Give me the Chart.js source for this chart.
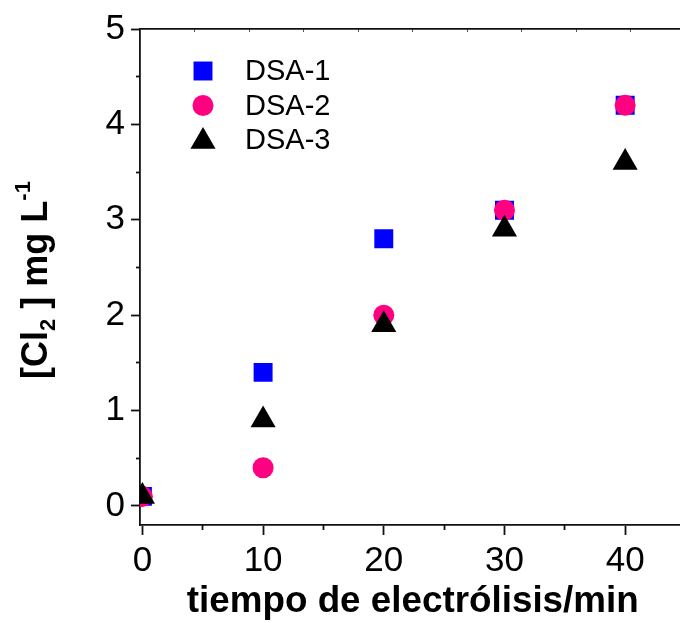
<!DOCTYPE html>
<html>
<head>
<meta charset="utf-8">
<script src="https://cdn.jsdelivr.net/npm/chart.js@4/dist/chart.umd.min.js"></script>
<style>
  html, body { margin: 0; padding: 0; overflow: hidden; background: #ffffff; }
  #wrap { width: 700px; height: 623px; }
</style>
</head>
<body>
<div id="wrap"><canvas id="c" width="700" height="623"></canvas></div>
<script>
// Electrolysis time (min) and chlorine concentration for each anode
const times = [0, 10, 20, 30, 40];
const dsa1 = [0.1, 1.4, 2.8, 3.1, 4.2];
const dsa2 = [0.1, 0.4, 2.0, 3.1, 4.2];
const dsa3 = [0.1, 0.9, 1.9, 2.9, 3.6];
const seriesNames = ['DSA-1', 'DSA-2', 'DSA-3'];
const xTicks = [0, 10, 20, 30, 40];
const yTicks = [0, 1, 2, 3, 4, 5];
const xTitle = 'tiempo de electrólisis/min';

const FONT = '"Liberation Sans", Arial, Helvetica, sans-serif';

function pts(ys) { return times.map((t, i) => ({ x: t, y: ys[i] })); }

const series = [
  { label: seriesNames[0], data: pts(dsa1), pointStyle: 'rect', pointRadius: 13.4, color: '#0000ff', order: 2 },
  { label: seriesNames[1], data: pts(dsa2), pointStyle: 'circle', pointRadius: 10.5, color: '#ff0080', order: 1 },
  { label: seriesNames[2], data: pts(dsa3), pointStyle: 'triangle', pointRadius: 14.5, color: '#000000', order: 0 }
];

const datasets = series.map(s => ({
  label: s.label,
  data: s.data,
  showLine: false,
  pointStyle: s.pointStyle,
  pointRadius: s.pointRadius,
  pointHoverRadius: s.pointRadius,
  pointBackgroundColor: s.color,
  pointBorderColor: s.color,
  pointBorderWidth: 0,
  order: s.order
}));

// In-plot legend and the y-axis title with sub/superscripts
const decorations = {
  id: 'decorations',
  afterDraw(chart) {
    const ctx = chart.ctx;
    ctx.save();
    // legend
    const rows = [71, 105.5, 140];
    series.forEach((s, i) => {
      const cy = rows[i];
      const cx = 203;
      ctx.fillStyle = s.color;
      const r = s.pointRadius;
      ctx.beginPath();
      if (s.pointStyle === 'rect') {
        const h = Math.SQRT1_2 * r;
        ctx.rect(cx - h, cy - h, 2 * h, 2 * h);
      } else if (s.pointStyle === 'circle') {
        ctx.arc(cx, cy, r, 0, Math.PI * 2);
      } else {
        const ty = cy + 1.5;
        ctx.moveTo(cx, ty - r);
        ctx.lineTo(cx + r * Math.sin(2 * Math.PI / 3), ty + r / 2);
        ctx.lineTo(cx - r * Math.sin(2 * Math.PI / 3), ty + r / 2);
        ctx.closePath();
      }
      ctx.fill();
      ctx.fillStyle = '#000';
      ctx.font = '29px ' + FONT;
      ctx.textBaseline = 'middle';
      ctx.textAlign = 'left';
      ctx.fillText(s.label, 245, cy + 1);
    });

    // y title: [Cl2] mg L-1
    const parts = [
      { t: '[Cl', size: 36, dy: 0 },
      { t: '2', size: 22, dy: 8 },
      { t: ' ]', size: 36, dy: 0 },
      { t: ' mg L', size: 36, dy: 0 },
      { t: '-1', size: 22, dy: -17 }
    ];
    let total = 0;
    parts.forEach(p => {
      ctx.font = 'bold ' + p.size + 'px ' + FONT;
      p.w = ctx.measureText(p.t).width;
      total += p.w;
    });
    ctx.translate(47, 280);
    ctx.rotate(-Math.PI / 2);
    ctx.fillStyle = '#000';
    ctx.textBaseline = 'alphabetic';
    let x = -total / 2;
    parts.forEach(p => {
      ctx.font = 'bold ' + p.size + 'px ' + FONT;
      ctx.fillText(p.t, x, p.dy);
      x += p.w;
    });
    ctx.restore();
  }
};

const axisColor = '#111111';

new Chart(document.getElementById('c'), {
  type: 'scatter',
  data: { datasets },
  plugins: [decorations],
  options: {
    responsive: false,
    animation: false,
    events: [],
    layout: { padding: { top: 29, right: 12, left: 0, bottom: 0 } },
    plugins: { legend: { display: false }, tooltip: { enabled: false } },
    scales: {
      x: {
        type: 'linear',
        position: 'bottom',
        min: -0.2,
        max: 45,
        weight: 1,
        afterBuildTicks: s => { s.ticks = xTicks.map(v => ({ value: v })); },
        afterFit: s => { s.height = 98; },
        ticks: { font: { family: FONT, size: 35 }, color: '#000', padding: 5, maxRotation: 0, autoSkip: false },
        grid: { drawOnChartArea: false, tickLength: 10, tickColor: axisColor, tickWidth: 1.8 },
        border: { color: axisColor, width: 1.8 },
        title: { display: true, text: xTitle, color: '#000', font: { family: FONT, size: 36.8, weight: 'bold' }, padding: { top: 0, bottom: -1 } }
      },
      xMinor: {
        type: 'linear',
        position: 'bottom',
        min: -0.2,
        max: 45,
        weight: 0,
        afterBuildTicks: s => { s.ticks = [5, 15, 25, 35].map(v => ({ value: v })); },
        afterFit: s => { s.height = 0; },
        ticks: { display: false },
        grid: { drawOnChartArea: false, tickLength: 5, tickColor: axisColor, tickWidth: 1.8 },
        border: { display: false }
      },
      xTop: {
        type: 'linear',
        position: 'top',
        min: 0,
        max: 10,
        afterBuildTicks: s => { s.ticks = [1, 2, 3, 4, 5, 6, 7, 8, 9].map(v => ({ value: v })); },
        afterFit: s => { s.height = 0; },
        ticks: { display: false },
        grid: { drawOnChartArea: false, tickLength: -3, tickColor: '#555', tickWidth: 1 },
        border: { color: axisColor, width: 1.8 }
      },
      y: {
        type: 'linear',
        position: 'left',
        min: -0.2,
        max: 5,
        weight: 1,
        afterBuildTicks: s => { s.ticks = yTicks.map(v => ({ value: v })); },
        afterFit: s => { s.width = 140; },
        ticks: { font: { family: FONT, size: 35 }, color: '#000', padding: 6 },
        grid: { drawOnChartArea: false, tickLength: 9, tickColor: axisColor, tickWidth: 1.8 },
        border: { color: axisColor, width: 1.8 }
      },
      yMinor: {
        type: 'linear',
        position: 'left',
        min: -0.2,
        max: 5,
        weight: 0,
        afterBuildTicks: s => { s.ticks = [0.5, 1.5, 2.5, 3.5, 4.5].map(v => ({ value: v })); },
        afterFit: s => { s.width = 0; },
        ticks: { display: false },
        grid: { drawOnChartArea: false, tickLength: 4, tickColor: axisColor, tickWidth: 1.8 },
        border: { display: false }
      }
    }
  }
});
</script>
</body>
</html>
